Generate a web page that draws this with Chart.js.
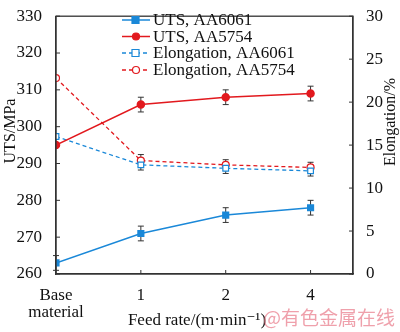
<!DOCTYPE html>
<html>
<head>
<meta charset="utf-8">
<script src="https://cdn.jsdelivr.net/npm/chart.js@4/dist/chart.umd.min.js"></script>
<style>
  body { margin: 0; background: #fff; }
  #wrap { width: 400px; height: 332px; }
</style>
</head>
<body>
<div id="wrap"><canvas id="chart" width="400" height="332"></canvas></div>
<script>
// data
const categories = ['Base material', '1', '2', '4'];
const utsAA6061 = [263, 271, 276, 278];
const utsAA6061Err = [2, 2, 2, 2];
const utsAA5754 = [295, 306, 308, 309];
const utsAA5754Err = [0, 2, 2, 2];
const elongAA6061 = [16.0, 12.7, 12.3, 12.0];
const elongAA6061Err = [0, 0.6, 0.6, 0.6];
const elongAA5754 = [22.8, 13.2, 12.7, 12.4];
const elongAA5754Err = [0, 0.7, 0.6, 0.6];
const utsTicks = [260, 270, 280, 290, 300, 310, 320, 330];
const elongTicks = [0, 5, 10, 15, 20, 25, 30];

const BLUE = '#1a88d8';
const RED = '#e2191e';
const AXIS = '#333';
const SERIF = '"Liberation Serif", "DejaVu Serif", serif';

function pts(values, errs) {
    return values.map((v, i) => ({ x: i, y: v, err: errs[i] }));
}

// error bars, inward ticks, frame, legend and axis titles
const extras = {
    id: 'extras',
    beforeDatasetsDraw(chart) {
        const ctx = chart.ctx;
        const xs = chart.scales.x;
        ctx.save();
        ctx.strokeStyle = AXIS;
        ctx.lineWidth = 1;
        chart.data.datasets.forEach(ds => {
            const ys = chart.scales[ds.yAxisID];
            ds.data.forEach(p => {
                if (!p.err) return;
                const x = xs.getPixelForValue(p.x);
                const y0 = ys.getPixelForValue(p.y - p.err);
                const y1 = ys.getPixelForValue(p.y + p.err);
                ctx.beginPath();
                ctx.moveTo(x, y0); ctx.lineTo(x, y1);
                ctx.moveTo(x - 3, y0); ctx.lineTo(x + 3, y0);
                ctx.moveTo(x - 3, y1); ctx.lineTo(x + 3, y1);
                ctx.stroke();
            });
        });
        ctx.restore();
    },
    afterDraw(chart) {
        const ctx = chart.ctx;
        const a = chart.chartArea;
        const { x, y, y1 } = chart.scales;
        ctx.save();
        // frame
        ctx.strokeStyle = AXIS;
        ctx.lineWidth = 1.3;
        ctx.strokeRect(a.left, a.top, a.right - a.left, a.bottom - a.top);
        // inward ticks
        ctx.lineWidth = 1;
        ctx.beginPath();
        utsTicks.forEach(v => {
            const py = y.getPixelForValue(v);
            ctx.moveTo(a.left, py); ctx.lineTo(a.left + 4, py);
        });
        elongTicks.forEach(v => {
            const py = y1.getPixelForValue(v);
            ctx.moveTo(a.right, py); ctx.lineTo(a.right - 4, py);
        });
        categories.forEach((c, i) => {
            const px = x.getPixelForValue(i);
            ctx.moveTo(px, a.bottom); ctx.lineTo(px, a.bottom - 4);
        });
        ctx.stroke();

        // legend
        const rows = [20, 36.5, 53, 70];
        ctx.font = '17px ' + SERIF;
        ctx.textBaseline = 'middle';
        chart.data.datasets.forEach((ds, i) => {
            const ry = rows[i];
            ctx.strokeStyle = ds.borderColor;
            ctx.lineWidth = 1.5;
            ctx.setLineDash(ds.borderDash || []);
            ctx.beginPath();
            ctx.moveTo(122, ry); ctx.lineTo(150, ry);
            ctx.stroke();
            ctx.setLineDash([]);
            ctx.fillStyle = ds.pointBackgroundColor;
            ctx.lineWidth = 1.2;
            ctx.beginPath();
            if (ds.pointStyle === 'rect') ctx.rect(132, ry - 3.5, 7, 7);
            else ctx.arc(136, ry, 3.5, 0, Math.PI * 2);
            ctx.fill();
            ctx.stroke();
            ctx.fillStyle = '#111';
            ctx.fillText(ds.label, 153, ry + 1);
        });

        // axis titles
        ctx.fillStyle = '#111';
        ctx.textAlign = 'center';
        ctx.font = '16px ' + SERIF;
        ctx.save();
        ctx.translate(11, 131);
        ctx.rotate(-Math.PI / 2);
        ctx.fillText('UTS/MPa', 0, 0);
        ctx.restore();
        ctx.save();
        ctx.translate(391, 122);
        ctx.rotate(-Math.PI / 2);
        ctx.fillText('Elongation/%', 0, 0);
        ctx.restore();
        ctx.font = '17px ' + SERIF;
        ctx.fillText('Feed rate/(m\u00b7min\u207b\u00b9)', 197, 321);

        // watermark
        ctx.textAlign = 'left';
        ctx.font = '19px "Noto Sans CJK SC"';
        ctx.fillStyle = 'rgba(232, 120, 135, 0.7)';
        ctx.fillText('@有色金属在线', 263, 318);
        ctx.restore();
    }
};

const ctx = document.getElementById('chart').getContext('2d');
new Chart(ctx, {
    type: 'line',
    data: {
        datasets: [
            {
                label: 'UTS, AA6061',
                data: pts(utsAA6061, utsAA6061Err),
                yAxisID: 'y',
                borderColor: BLUE,
                pointBackgroundColor: BLUE,
                pointBorderColor: BLUE,
                pointStyle: 'rect',
                pointRadius: 4,
                borderWidth: 1.5
            },
            {
                label: 'UTS, AA5754',
                data: pts(utsAA5754, utsAA5754Err),
                yAxisID: 'y',
                borderColor: RED,
                pointBackgroundColor: RED,
                pointBorderColor: RED,
                pointStyle: 'circle',
                pointRadius: 3.5,
                borderWidth: 1.5
            },
            {
                label: 'Elongation, AA6061',
                data: pts(elongAA6061, elongAA6061Err),
                yAxisID: 'y1',
                borderColor: BLUE,
                borderDash: [4, 3],
                pointBackgroundColor: '#fff',
                pointBorderColor: BLUE,
                pointStyle: 'rect',
                pointRadius: 4,
                pointBorderWidth: 1.2,
                borderWidth: 1.3
            },
            {
                label: 'Elongation, AA5754',
                data: pts(elongAA5754, elongAA5754Err),
                yAxisID: 'y1',
                borderColor: RED,
                borderDash: [4, 3],
                pointBackgroundColor: '#fff',
                pointBorderColor: RED,
                pointStyle: 'circle',
                pointRadius: 3.5,
                pointBorderWidth: 1.2,
                borderWidth: 1.3
            }
        ]
    },
    options: {
        responsive: false,
        animation: false,
        devicePixelRatio: 1,
        layout: { padding: { top: 6, left: 0, right: 0, bottom: 0 } },
        plugins: {
            legend: { display: false },
            tooltip: { enabled: false }
        },
        scales: {
            x: {
                type: 'linear',
                min: 0,
                max: 3.5,
                afterBuildTicks: s => { s.ticks = categories.map((c, i) => ({ value: i })); },
                afterFit: s => { s.height = 58; },
                grid: { display: false },
                border: { color: AXIS, width: 1.3 },
                ticks: {
                    padding: 5,
                    color: '#111',
                    font: { family: SERIF, size: 17, lineHeight: 1.0 },
                    maxRotation: 0,
                    autoSkip: false,
                    callback: v => {
                        const c = categories[v];
                        return c && c.includes(' ') ? c.split(' ') : c;
                    }
                }
            },
            y: {
                position: 'left',
                min: utsTicks[0],
                max: utsTicks[utsTicks.length - 1],
                afterBuildTicks: s => { s.ticks = utsTicks.map(v => ({ value: v })); },
                afterFit: s => { s.width = 56; },
                grid: { display: false },
                border: { color: AXIS, width: 1.3 },
                ticks: { padding: 6, color: '#111', font: { family: SERIF, size: 17 } }
            },
            y1: {
                position: 'right',
                min: elongTicks[0],
                max: elongTicks[elongTicks.length - 1],
                afterBuildTicks: s => { s.ticks = elongTicks.map(v => ({ value: v })); },
                afterFit: s => { s.width = 47; },
                grid: { display: false },
                border: { color: AXIS, width: 1.3 },
                ticks: { padding: 5, color: '#111', font: { family: SERIF, size: 17 } }
            }
        }
    },
    plugins: [extras]
});
</script>
</body>
</html>
